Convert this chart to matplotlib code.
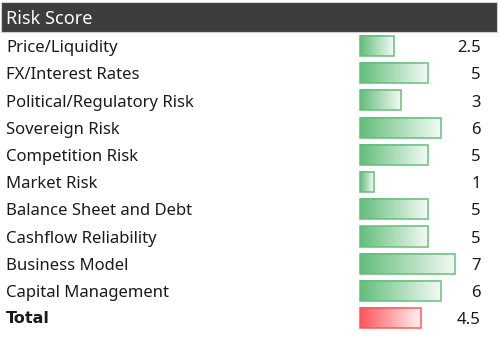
#!/usr/bin/env python3

import numpy as np
import matplotlib
matplotlib.use("Agg")
import matplotlib.pyplot as plt
from matplotlib.colors import LinearSegmentedColormap
from matplotlib.patches import Rectangle

categories = [
    "Price/Liquidity",
    "FX/Interest Rates",
    "Political/Regulatory Risk",
    "Sovereign Risk",
    "Competition Risk",
    "Market Risk",
    "Balance Sheet and Debt",
    "Cashflow Reliability",
    "Business Model",
    "Capital Management",
    "Total",
]
scores = [2.5, 5, 3, 6, 5, 1, 5, 5, 7, 6, 4.5]
score_labels = ["2.5", "5", "3", "6", "5", "1", "5", "5", "7", "6", "4.5"]

GREEN = "#63be7b"
RED = "#ff555a"
FONT = "Noto Sans"


def gradient_bar(ax, y, value, color, height=0.74):
    cmap = LinearSegmentedColormap.from_list("bar", [color, "#ffffff"])
    grad = np.linspace(0, 0.92, 256).reshape(1, -1)
    ax.imshow(grad, cmap=cmap, vmin=0, vmax=1, aspect="auto",
              extent=(0, value, y + height / 2, y - height / 2),
              interpolation="bilinear", zorder=2)
    ax.add_patch(Rectangle((0, y - height / 2), value, height, fill=False,
                           edgecolor=color, linewidth=1.2, alpha=0.9, zorder=3))


def main():
    plt.rcParams["font.family"] = [FONT, "DejaVu Sans"]
    fig = plt.figure(figsize=(5, 3.39), dpi=100)
    ax = fig.add_axes([0, 0, 1, 1])
    x_left, x_right = -360 / 13.5, 140 / 13.5
    ax.set_xlim(x_left, x_right)
    ax.set_ylim(10.77, -1.691)
    ax.axis("off")

    # header band
    ax.add_patch(Rectangle((x_left + 0.07, -1.618), x_right - x_left - 0.28, 1.1,
                           facecolor="#3d3d3d", edgecolor="#cfcfcf", linewidth=0.8, zorder=1))
    ax.text(x_left + 0.45, -1.0, "Risk Score", color="white", fontsize=13,
            va="center", ha="left")

    shift = 0.08
    for i, (name, value, label) in enumerate(zip(categories, scores, score_labels)):
        is_total = name == "Total"
        if is_total:
            ax.text(x_left + 0.45, i + 0.02, name, fontsize=11.5, va="center", ha="left",
                    color="#1a1a1a", fontweight="bold", family="DejaVu Sans")
        else:
            ax.text(x_left + 0.45, i + shift, name, fontsize=12, va="center", ha="left",
                    color="#1a1a1a")
        gradient_bar(ax, i, value, RED if is_total else GREEN)
        ax.text(8.96, i + shift, label, fontsize=12, va="center", ha="right", color="#1a1a1a")

    fig.savefig("out.png", dpi=100)


if __name__ == "__main__":
    main()
